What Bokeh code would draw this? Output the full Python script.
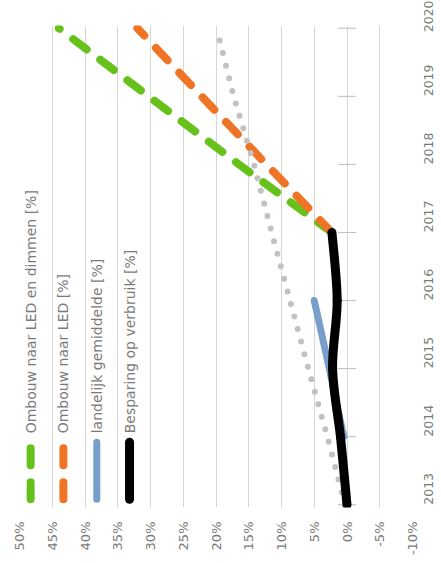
import math
from bokeh.plotting import figure
from bokeh.models import Range1d, FixedTicker, Label
from bokeh.embed import file_html
from bokeh.resources import INLINE

# ---- data -------------------------------------------------------------
years = [2013, 2014, 2015, 2016, 2017, 2018, 2019, 2020]

led_dim_years = [2017, 2018, 2019, 2020]
led_dim = [2.3, 16.5, 30.3, 44.0]          # Ombouw naar LED en dimmen [%]

led_years = [2017, 2018, 2019, 2020]
led = [2.3, 12.3, 22.2, 32.0]              # Ombouw naar LED [%]

trend_years = years
trend = [0.3, 3.0, 5.9, 8.7, 11.5, 14.2, 17.3, 19.9]   # grey dotted reference

national_years = [2014, 2015, 2016]
national = [0.5, 2.7, 5.0]                 # landelijk gemiddelde [%]

saving_years = [2013, 2014, 2015, 2016, 2017]
saving = [0.0, 1.0, 2.2, 1.5, 2.3]         # Besparing op verbruik [%]

pct_ticks = [-10, -5, 0, 5, 10, 15, 20, 25, 30, 35, 40, 45, 50]
pct_labels = [f"{t}%" for t in pct_ticks]
year_labels = [str(y) for y in years]

legend_names = [
    "Ombouw naar LED en dimmen [%]",
    "Ombouw naar LED [%]",
    "landelijk gemiddelde [%]",
    "Besparing op verbruik [%]",
]

# ---- styles -----------------------------------------------------------
GREEN = "#66C21A"
ORANGE = "#F07426"
BLUE = "#789FCB"
BLACK = "#000000"
DOTS = "#C2C2C2"
GRID = "#D6D6D6"
TEXT = "#7A7A7A"
FONT = "DejaVu Sans"
DASH = "17 17"

# Percent runs right-to-left, years bottom-to-top (chart turned on its side)
p = figure(
    width=441, height=563,
    output_backend="svg", toolbar_location=None,
    x_range=Range1d(50, -10), y_range=Range1d(2012.96, 2020.04),
    x_axis_location="below", y_axis_location="right",
    min_border_left=19, min_border_right=29,
    min_border_top=25, min_border_bottom=56,
)
p.outline_line_color = None
p.background_fill_color = "white"
p.border_fill_color = "white"

p.xgrid.ticker = FixedTicker(ticks=pct_ticks)
p.xgrid.grid_line_color = GRID
p.ygrid.grid_line_color = None

xa = p.xaxis[0]
xa.ticker = FixedTicker(ticks=pct_ticks)
xa.major_label_overrides = dict(zip(pct_ticks, pct_labels))
xa.major_label_orientation = math.pi / 2
xa.axis_line_color = None
xa.major_tick_line_color = None
xa.minor_tick_line_color = None
xa.major_tick_out = 0
xa.major_tick_in = 0
xa.major_label_standoff = 14
xa.major_label_text_font = FONT
xa.major_label_text_font_size = "13px"
xa.major_label_text_color = TEXT

ya = p.yaxis[0]
ya.ticker = FixedTicker(ticks=years)
ya.major_label_overrides = dict(zip(years, year_labels))
ya.major_label_orientation = math.pi / 2
ya.axis_line_color = None
ya.major_tick_line_color = None
ya.minor_tick_line_color = None
ya.major_tick_out = 0
ya.major_tick_in = 0
ya.major_label_standoff = 16
ya.major_label_text_font = FONT
ya.major_label_text_font_size = "12.5px"
ya.major_label_text_color = TEXT

# tick marks on the 0% axis line
p.scatter(x=[0] * len(years), y=years, marker="dash", size=18,
          line_color="#BDBDBD", line_width=1)

# series
p.line(led_dim, led_dim_years, line_color=GREEN, line_width=8,
       line_dash=DASH, line_cap="round")
p.line(led, led_years, line_color=ORANGE, line_width=8,
       line_dash=DASH, line_cap="round")
p.line(trend, trend_years, line_color=DOTS, line_width=6,
       line_dash="0 13", line_cap="round")
p.line(national, national_years, line_color=BLUE, line_width=7,
       line_cap="round", line_join="round")


def smooth(xs, ys):
    """Cubic bezier pieces through every point (Catmull-Rom style)."""
    n = len(xs)
    out = dict(x0=[], y0=[], x1=[], y1=[], cx0=[], cy0=[], cx1=[], cy1=[])
    for i in range(n - 1):
        a = max(i - 1, 0)
        d = min(i + 2, n - 1)
        out["x0"].append(xs[i]); out["y0"].append(ys[i])
        out["x1"].append(xs[i + 1]); out["y1"].append(ys[i + 1])
        out["cx0"].append(xs[i] + (xs[i + 1] - xs[a]) / 6)
        out["cy0"].append(ys[i] + (ys[i + 1] - ys[a]) / 6)
        out["cx1"].append(xs[i + 1] - (xs[d] - xs[i]) / 6)
        out["cy1"].append(ys[i + 1] - (ys[d] - ys[i]) / 6)
    return out


p.bezier(source=smooth(saving, saving_years), x0="x0", y0="y0", x1="x1", y1="y1",
         cx0="cx0", cy0="cy0", cx1="cx1", cy1="cy1",
         line_color=BLACK, line_width=9, line_cap="round")

# legend, turned like the rest of the chart
legend_x = [48.3, 43.3, 38.2, 33.2]
legend_colors = [GREEN, ORANGE, BLUE, BLACK]
legend_dash = [DASH, DASH, "solid", "solid"]
legend_widths = [8, 8, 7, 9]
for name, lx, col, dash, w in zip(legend_names, legend_x, legend_colors,
                                  legend_dash, legend_widths):
    p.line([lx, lx], [2013.08, 2013.92], line_color=col, line_width=w,
           line_dash=dash, line_cap="round")
    p.add_layout(Label(x=lx, y=2014.05, text=name, angle=math.pi / 2,
                       text_align="left", text_baseline="middle",
                       text_font=FONT, text_font_size="14px",
                       text_color=TEXT))

open("out.html", "w").write(file_html(p, INLINE))
